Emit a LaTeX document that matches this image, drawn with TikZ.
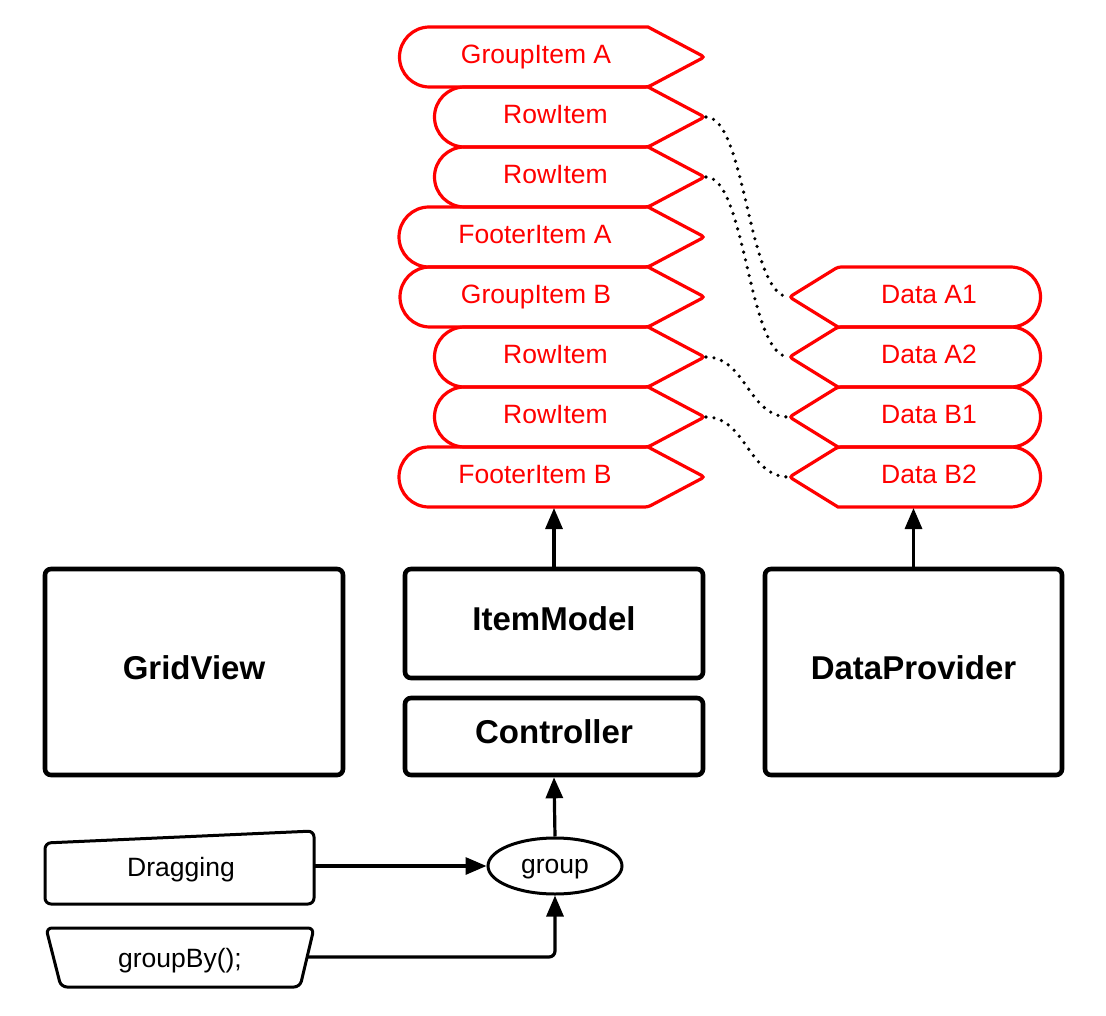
\documentclass[tikz,border=0pt]{standalone}
\usepackage{fontspec}
\setmainfont{Liberation Sans}
\usetikzlibrary{arrows.meta,shapes.geometric}
\newcommand\leftshape[3]{% xleft, ytop, ybottom
  \draw[redshape] ({#1+30},-#2) -- (648,-#2) [rounded corners=3] -- (704.5,{-(#2+#3)/2}) -- (648,-#3) [sharp corners] -- ({#1+30},-#3) arc[start angle=270,end angle=90,radius=30] -- cycle;}
\newcommand\rightshape[2]{% ytop, ybottom
  \draw[redshape] (838,-#1) -- (1010.5,-#1) arc[start angle=90,end angle=-90,radius=30] -- (838,-#2) [rounded corners=3] -- (789.5,{-(#1+#2)/2}) -- cycle;}
\begin{document}
\begin{tikzpicture}[x=1pt,y=1pt,
  redshape/.style={draw=red, line width=3.2pt},
  redtxt/.style={text=red, font=\fontsize{26.5}{30}\selectfont, anchor=base, inner sep=0},
  blackbox/.style={draw, line width=4.6pt, rounded corners=6, font=\fontsize{33}{38}\selectfont\bfseries, text height=24, text depth=10, inner sep=0},
  arr/.style={line width=3.2pt, -{Triangle[length=21pt,width=17pt]}},
  dotline/.style={line width=3.6pt, dash pattern=on 0pt off 8pt, line cap=round},
  small/.style={font=\fontsize{26.5}{30}\selectfont, inner sep=0},
  thinshape/.style={draw, line width=3pt, rounded corners=6},
]
\useasboundingbox (0,0) rectangle (1106,-1016);

% left red column
\leftshape{399.5}{27}{87}
\leftshape{434.5}{87}{147}
\leftshape{434.5}{147}{207}
\leftshape{399}{207}{267}
\leftshape{400}{267}{327}
\leftshape{434.5}{327}{387}
\leftshape{434.5}{387}{447}
\leftshape{399}{447}{507}
\node[redtxt] (ga) at (536,-63.5) {GroupItem A};
\node[redtxt] (r1) at (555.5,-123.5) {RowItem};
\node[redtxt] (r2) at (555.5,-183.5) {RowItem};
\node[redtxt] (fa) at (535,-243.5) {FooterItem A};
\node[redtxt] (gb) at (536,-303.5) {GroupItem B};
\node[redtxt] (r3) at (555.5,-363.5) {RowItem};
\node[redtxt] (r4) at (555.5,-423.5) {RowItem};
\node[redtxt] (fb) at (535,-483.5) {FooterItem B};

% right red column
\rightshape{267}{327}
\rightshape{327}{387}
\rightshape{387}{447}
\rightshape{447}{507}
\node[redtxt] (da1) at (929,-303.5) {Data A1};
\node[redtxt] (da2) at (929,-363.5) {Data A2};
\node[redtxt] (db1) at (929,-423.5) {Data B1};
\node[redtxt] (db2) at (929,-483.5) {Data B2};

% tips
\coordinate (t1) at (706,-117);
\coordinate (t2) at (706,-177);
\coordinate (t3) at (706,-357);
\coordinate (t4) at (706,-417);
\coordinate (d1) at (789,-297);
\coordinate (d2) at (789,-357);
\coordinate (d3) at (789,-417);
\coordinate (d4) at (789,-477);
\draw[dotline] (t1) .. controls (746,-117) and (748,-297) .. (d1);
\draw[dotline] (t2) .. controls (746,-177) and (748,-357) .. (d2);
\draw[dotline] (t3) .. controls (746,-357) and (748,-417) .. (d3);
\draw[dotline] (t4) .. controls (746,-417) and (748,-477) .. (d4);

% black boxes
\node[blackbox, minimum width=298, minimum height=206] (gv) at (194,-672) {GridView};
\node[blackbox, minimum width=298, minimum height=109] (im) at (554,-623.5) {ItemModel};
\node[blackbox, minimum width=298, minimum height=77] (ctrl) at (554,-736.5) {Controller};
\node[blackbox, minimum width=297, minimum height=206] (dp) at (913.5,-672) {DataProvider};

\coordinate (fbbot) at (554,-508);
\coordinate (db2bot) at (913.5,-508);
\draw[arr] (im.north) -- (fbbot);
\draw[arr] (dp.north) -- (db2bot);

% group ellipse
\node[ellipse, draw, line width=3pt, minimum width=134, minimum height=56, inner sep=0, small, text height=14, text depth=0] (grp) at (555,-866) {group};
\draw[arr] (grp.north) -- (ctrl.south);

% Dragging
\draw[thinshape] (45,-904) -- (45,-843) -- (314,-831) -- (314,-904) -- cycle;
\node[small, anchor=base] (drag) at (181,-876) {Dragging};
\coordinate (dragR) at (314,-866);
\draw[arr] (dragR) -- (grp.west);

% groupBy
\draw[thinshape] (46,-928) -- (314,-928) -- (300,-987) -- (61,-987) -- cycle;
\node[small, anchor=base] (gby) at (180,-967) {groupBy();};
\coordinate (gbR) at (307,-957);
\draw[arr, rounded corners=6] (gbR) -| (grp.south);
\end{tikzpicture}
\end{document}
